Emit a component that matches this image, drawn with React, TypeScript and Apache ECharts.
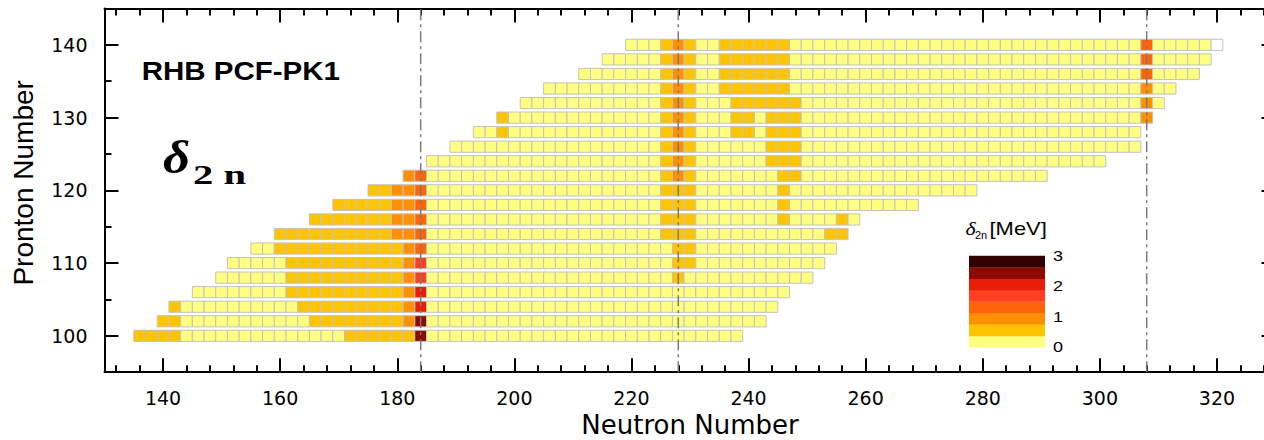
import { useEffect, useRef } from 'react';
import * as echarts from 'echarts';

// ---------------- data ----------------
const protonNumbers = [100, 102, 104, 106, 108, 110, 112, 114, 116, 118, 120, 122, 124, 126, 128, 130, 132, 134, 136, 138, 140];
// first (lowest) neutron number of each proton row
const rowFirstNeutron = [136, 140, 142, 146, 150, 152, 156, 160, 166, 170, 176, 182, 186, 190, 194, 198, 202, 206, 212, 216, 220];
// delta_2n colour band of each even-N cell, run-length encoded as [band, count]; band -1 = no value
const delta2nBandRuns: number[][][] = [
  [[1, 4], [0, 14], [1, 6], [6, 1], [0, 27]], // Z=100
  [[1, 2], [0, 11], [1, 8], [2, 1], [6, 1], [0, 29]], // Z=102
  [[1, 1], [0, 10], [1, 9], [2, 1], [5, 1], [0, 30]], // Z=104
  [[0, 8], [1, 10], [2, 1], [5, 1], [0, 31]], // Z=106
  [[0, 6], [1, 10], [2, 1], [4, 1], [0, 21], [1, 1], [0, 11]], // Z=108
  [[0, 5], [1, 10], [2, 1], [4, 1], [0, 21], [1, 2], [0, 11]], // Z=110
  [[0, 2], [1, 11], [2, 1], [3, 1], [0, 21], [1, 2], [0, 12]], // Z=112
  [[1, 10], [2, 2], [3, 1], [0, 20], [1, 3], [0, 11], [1, 2]], // Z=114
  [[1, 7], [2, 2], [3, 1], [0, 20], [1, 3], [0, 7], [1, 1], [0, 4], [1, 1], [0, 1]], // Z=116
  [[1, 5], [2, 2], [3, 1], [0, 20], [1, 3], [0, 7], [1, 1], [0, 11]], // Z=118
  [[1, 2], [2, 2], [3, 1], [0, 20], [1, 3], [0, 7], [1, 1], [0, 16]], // Z=120
  [[2, 1], [3, 1], [0, 20], [1, 1], [2, 1], [1, 1], [0, 7], [1, 2], [0, 21]], // Z=122
  [[0, 20], [1, 1], [2, 1], [1, 1], [0, 6], [1, 3], [0, 26]], // Z=124
  [[0, 18], [1, 1], [2, 1], [1, 1], [0, 6], [1, 3], [0, 29]], // Z=126
  [[0, 2], [1, 1], [0, 13], [1, 1], [2, 1], [1, 1], [0, 3], [1, 2], [0, 1], [1, 3], [0, 29]], // Z=128
  [[1, 1], [0, 13], [1, 1], [2, 1], [1, 1], [0, 3], [1, 2], [0, 1], [1, 3], [0, 29], [2, 1]], // Z=130
  [[0, 12], [1, 1], [2, 1], [1, 1], [0, 3], [1, 6], [0, 29], [2, 1], [0, 1]], // Z=132
  [[0, 10], [1, 1], [2, 1], [1, 1], [0, 2], [1, 6], [0, 30], [2, 1], [0, 2]], // Z=134
  [[0, 7], [1, 1], [2, 1], [1, 1], [0, 2], [1, 6], [0, 30], [3, 1], [0, 4]], // Z=136
  [[0, 5], [1, 1], [2, 1], [1, 1], [0, 2], [1, 6], [0, 30], [3, 1], [0, 5]], // Z=138
  [[0, 3], [1, 1], [2, 1], [1, 1], [0, 2], [1, 6], [0, 30], [3, 1], [0, 5], [-1, 1]], // Z=140
];
const bandColors = ['#ffff80', '#ffc400', '#ff9000', '#ff6408', '#ff4020', '#e81e0a', '#8c0a00', '#330000'];
const bandStepMeV = 0.375;
const colorbarTicks = [0, 1, 2, 3];
const magicNeutrons = [184, 228, 308];
const xMajorTicks = [140, 160, 180, 200, 220, 240, 260, 280, 300, 320];
const xMinorTicks = [132, 136, 144, 148, 152, 156, 164, 168, 172, 176, 184, 188, 192, 196, 204, 208, 212, 216, 224, 228, 232, 236, 244, 248, 252, 256, 264, 268, 272, 276, 284, 288, 292, 296, 304, 308, 312, 316, 324, 328];
const yMajorTicks = [100, 110, 120, 130, 140];
const yMinorTicks = [105, 115, 125, 135];

// ---------------- build cells ----------------
const cells: number[][] = [];
protonNumbers.forEach((z, r) => {
  let n = rowFirstNeutron[r];
  delta2nBandRuns[r].forEach(([band, count]) => {
    for (let i = 0; i < count; i++) {
      cells.push([n, z, band]);
      n += 2;
    }
  });
});

const X_MIN = 130, X_MAX = 330, Y_MIN = 95, Y_MAX = 145;
const CELL_HALF_H = 0.77;
const black = '#000';
const tickStyle = { color: black, width: 2 };

function xAx(position: string, ticks: number[], len: number, main: boolean): any {
  return {
    type: 'value', position, min: X_MIN, max: X_MAX,
    axisLine: { show: main, onZero: false, lineStyle: { color: black, width: 2 } },
    axisTick: { show: true, inside: true, length: len, lineStyle: tickStyle, customValues: ticks },
    axisLabel: main && position === 'bottom'
      ? { show: true, customValues: xMajorTicks, fontFamily: 'DejaVu Sans', fontSize: 19, color: black, margin: 16 }
      : { show: false },
    splitLine: { show: false },
    ...(main && position === 'bottom'
      ? { name: 'Neutron Number', nameLocation: 'middle', nameGap: 40, nameTextStyle: { fontFamily: 'DejaVu Sans', fontSize: 26, color: black } }
      : {}),
  };
}
function yAx(position: string, ticks: number[], len: number, main: boolean): any {
  return {
    type: 'value', position, min: Y_MIN, max: Y_MAX,
    axisLine: { show: main, onZero: false, lineStyle: { color: black, width: 2 } },
    axisTick: { show: true, inside: true, length: len, lineStyle: tickStyle, customValues: ticks },
    axisLabel: main && position === 'left'
      ? { show: true, customValues: yMajorTicks, fontFamily: 'DejaVu Sans', fontSize: 19, color: black, margin: 17 }
      : { show: false },
    splitLine: { show: false },
    ...(main && position === 'left'
      ? { name: 'Pronton Number', nameLocation: 'middle', nameGap: 67,
          nameTextStyle: { fontFamily: 'Liberation Sans', fontSize: 28, color: black, padding: [0, 0, 0, 15] } }
      : {}),
  };
}

// colour bar geometry
const CB_X = 969, CB_W = 76, CB_BOTTOM = 347.3, CB_H = 91.6;
const cbRange = bandColors.length * bandStepMeV;
const colorbarGraphics: any[] = [
  ...bandColors.map((c, i) => ({
    type: 'rect', silent: true,
    shape: { x: CB_X, y: CB_BOTTOM - ((i + 1) * CB_H) / bandColors.length, width: CB_W, height: CB_H / bandColors.length + 0.3 },
    style: { fill: c },
  })),
  ...colorbarTicks.map((t) => ({
    type: 'text', silent: true, x: 1053, y: CB_BOTTOM - (t / cbRange) * CB_H,
    style: { text: String(t), fontFamily: 'Liberation Sans', fontSize: 15, fill: black, align: 'left', verticalAlign: 'middle' },
    scaleX: 1.2,
  })),
  { type: 'text', silent: true, x: 965.5, y: 228.5, scaleX: 1.15,
    style: { text: 'δ', fontFamily: 'Liberation Serif', fontStyle: 'italic', fontSize: 19, fill: black, align: 'left', verticalAlign: 'middle' } },
  { type: 'text', silent: true, x: 975, y: 235, scaleX: 1.1,
    style: { text: '2n', fontFamily: 'Liberation Sans', fontSize: 10, fill: black, align: 'left', verticalAlign: 'middle' } },
  { type: 'text', silent: true, x: 989.5, y: 229, scaleX: 1.22,
    style: { text: '[MeV]', fontFamily: 'Liberation Sans', fontSize: 18, fill: black, align: 'left', verticalAlign: 'middle' } },
];

const option: any = {
  animation: false,
  backgroundColor: '#ffffff',
  grid: { left: 104.5, right: 14.5, top: 8.5, bottom: 67.8, containLabel: false, outerBoundsMode: 'none' },
  xAxis: [
    xAx('bottom', xMajorTicks, 14, true),
    xAx('bottom', xMinorTicks, 7, false),
    xAx('top', xMajorTicks, 14, true),
    xAx('top', xMinorTicks, 7, false),
  ],
  yAxis: [
    yAx('left', yMajorTicks, 14, true),
    yAx('left', yMinorTicks, 7, false),
    yAx('right', yMajorTicks, 14, true),
    yAx('right', yMinorTicks, 7, false),
  ],
  series: [
    {
      type: 'custom', xAxisIndex: 0, yAxisIndex: 0, z: 2, silent: true,
      data: cells,
      renderItem: (_params: any, api: any) => {
        const n = api.value(0) as number;
        const z = api.value(1) as number;
        const b = api.value(2) as number;
        const tl = api.coord([n - 1, z + CELL_HALF_H]);
        const br = api.coord([n + 1, z - CELL_HALF_H]);
        return {
          type: 'rect',
          shape: { x: tl[0], y: tl[1], width: br[0] - tl[0], height: br[1] - tl[1] },
          style: { fill: b < 0 ? '#ffffff' : bandColors[b], stroke: '#c2c2c2', lineWidth: 1 },
        };
      },
    },
    ...magicNeutrons.map((n) => ({
      type: 'line', xAxisIndex: 0, yAxisIndex: 0, z: 3, silent: true,
      data: [[n, Y_MIN], [n, Y_MAX]], symbol: 'none',
      lineStyle: { color: '#7a7a7a', width: 1.5, type: [11, 4, 3, 4] },
    })),
  ],
  graphic: [
    { type: 'text', silent: true, x: 141.7, y: 71.3, scaleX: 1.18,
      style: { text: 'RHB PCF-PK1', fontFamily: 'Liberation Sans', fontWeight: 'bold', fontSize: 25, fill: black, align: 'left', verticalAlign: 'middle' } },
    { type: 'text', silent: true, x: 163, y: 158, scaleX: 1.15,
      style: { text: 'δ', fontFamily: 'Liberation Serif', fontStyle: 'italic', fontWeight: 'bold', fontSize: 46, fill: black, align: 'left', verticalAlign: 'middle' } },
    { type: 'text', silent: true, x: 193, y: 174.5, scaleX: 1.45,
      style: { text: '2 n', fontFamily: 'Liberation Serif', fontWeight: 'bold', fontSize: 28, fill: black, align: 'left', verticalAlign: 'middle' } },
    ...colorbarGraphics,
  ],
};

export default function App() {
  const ref = useRef<HTMLDivElement>(null);
  useEffect(() => {
    const chart = echarts.init(ref.current as HTMLDivElement, null, { renderer: 'svg' });
    chart.setOption(option);
    return () => chart.dispose();
  }, []);
  return (
    <div style={{ position: 'absolute', left: 0, top: 0, width: 1264, height: 440, overflow: 'hidden', background: '#fff' }}>
      <div ref={ref} style={{ width: 1290, height: 440 }} />
    </div>
  );
}
